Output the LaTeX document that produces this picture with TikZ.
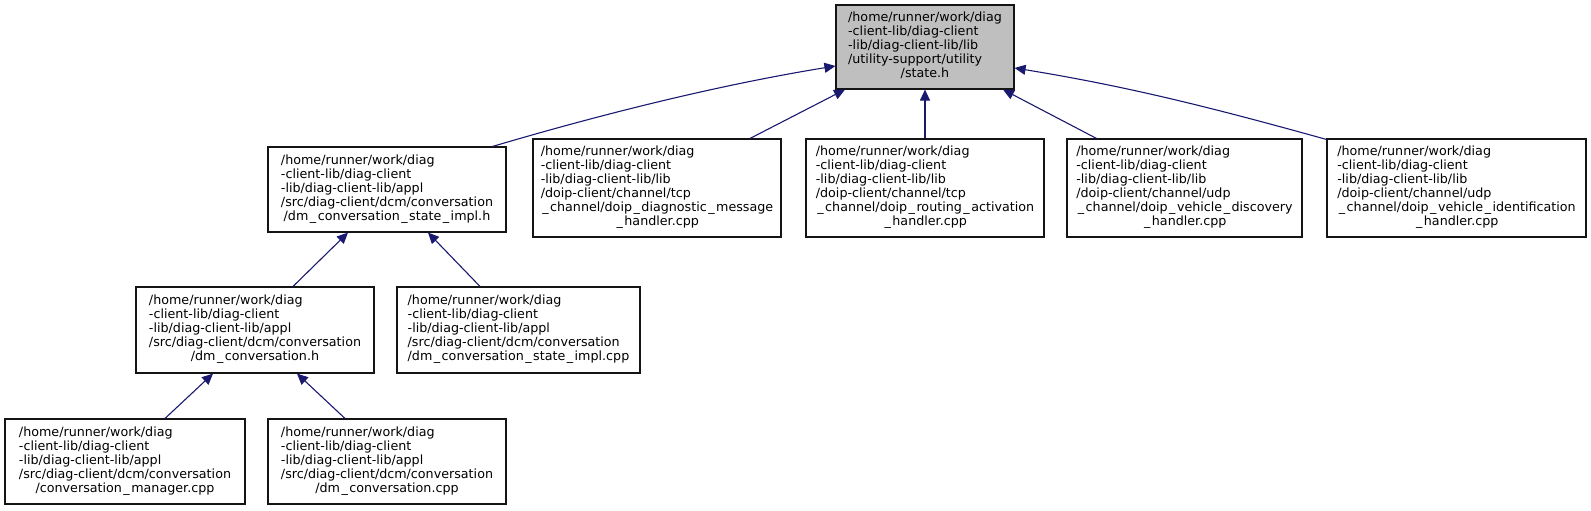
\documentclass[tikz,border=0pt]{standalone}
\usepackage{fontspec}
\setmainfont{DejaVu Sans}
\usepackage{tikz}
\usetikzlibrary{arrows.meta,calc}
\definecolor{edgeblue}{RGB}{25,25,112}
\definecolor{hdrgray}{RGB}{191,191,191}
\definecolor{frame}{RGB}{20,20,20}
% file name set as doxygen does: lines left, last line centred
\newcommand{\fpath}[2]{\raisebox{-2.5pt}{\begin{tabular}{@{}l@{}}#1\\\multicolumn{1}{@{}c@{}}{#2}\end{tabular}}}
\newcommand{\us}{\kern1.5pt\_\kern1.5pt}
\tikzset{
  file/.style={draw=frame, fill=white, line width=1.1pt, inner sep=0pt,
    font=\fontsize{12.7}{14}\selectfont, text=black},
  hdr/.style={file, fill=hdrgray},
  dep/.style={-{Triangle[length=11pt,width=10pt]}, line width=1.1pt, draw=edgeblue},
}
\begin{document}
\begin{tikzpicture}[x=1pt,y=-1pt]
  \useasboundingbox (0,0) rectangle (1591,511);
  % top row
  \node[hdr, minimum width=178, minimum height=84] (state) at (925,47)
    {\fpath{/home/runner/work/diag\\-client-lib/diag-client\\-lib/diag-client-lib/lib\\/utility-support/utility}{/state.h}};
  % second row
  \node[file, minimum width=238, minimum height=85] (implh) at (387,189.5)
    {\fpath{/home/runner/work/diag\\-client-lib/diag-client\\-lib/diag-client-lib/appl\\/src/diag-client/dcm/conversation}{/dm\us conversation\us state\us impl.h}};
  \node[file, minimum width=248, minimum height=98] (tcpdiag) at (657,188)
    {\fpath{/home/runner/work/diag\\-client-lib/diag-client\\-lib/diag-client-lib/lib\\/doip-client/channel/tcp\\\us channel/doip\us diagnostic\us message}{\us handler.cpp}};
  \node[file, minimum width=238, minimum height=98] (tcprout) at (925,188)
    {\fpath{/home/runner/work/diag\\-client-lib/diag-client\\-lib/diag-client-lib/lib\\/doip-client/channel/tcp\\\us channel/doip\us routing\us activation}{\us handler.cpp}};
  \node[file, minimum width=235, minimum height=98] (udpdisc) at (1184.5,188)
    {\fpath{/home/runner/work/diag\\-client-lib/diag-client\\-lib/diag-client-lib/lib\\/doip-client/channel/udp\\\us channel/doip\us vehicle\us discovery}{\us handler.cpp}};
  \node[file, minimum width=259, minimum height=98] (udpident) at (1456.5,188)
    {\fpath{/home/runner/work/diag\\-client-lib/diag-client\\-lib/diag-client-lib/lib\\/doip-client/channel/udp\\\us channel/doip\us vehicle\us identification}{\us handler.cpp}};
  % third row
  \node[file, minimum width=238, minimum height=86] (convh) at (255,330)
    {\fpath{/home/runner/work/diag\\-client-lib/diag-client\\-lib/diag-client-lib/appl\\/src/diag-client/dcm/conversation}{/dm\us conversation.h}};
  \node[file, minimum width=243, minimum height=86] (implcpp) at (518.5,330)
    {\fpath{/home/runner/work/diag\\-client-lib/diag-client\\-lib/diag-client-lib/appl\\/src/diag-client/dcm/conversation}{/dm\us conversation\us state\us impl.cpp}};
  % bottom row
  \node[file, minimum width=240, minimum height=85] (manager) at (125,461.5)
    {\fpath{/home/runner/work/diag\\-client-lib/diag-client\\-lib/diag-client-lib/appl\\/src/diag-client/dcm/conversation}{/conversation\us manager.cpp}};
  \node[file, minimum width=238, minimum height=85] (convcpp) at (387,461.5)
    {\fpath{/home/runner/work/diag\\-client-lib/diag-client\\-lib/diag-client-lib/appl\\/src/diag-client/dcm/conversation}{/dm\us conversation.cpp}};
  % include edges
  \draw[dep] ([xshift=-14pt]implh.north east) .. controls +(108,-32) and +(-117,19) .. ([yshift=-19pt]state.west);
  \draw[dep] ([xshift=93pt]tcpdiag.north) -- ([xshift=-80pt]state.south);
  \draw[dep] (tcprout.north) -- (state.south);
  \draw[dep] ([xshift=-88pt]udpdisc.north) -- ([xshift=78pt]state.south);
  \draw[dep] ([yshift=-1pt]udpident.north west) .. controls +(-108,-30) and +(117,19) .. ([yshift=-21pt]state.east);
  \draw[dep] ([xshift=38pt]convh.north) -- ([xshift=-39pt]implh.south);
  \draw[dep] ([xshift=-38.5pt]implcpp.north) -- ([xshift=41pt]implh.south);
  \draw[dep] ([xshift=40pt]manager.north) -- ([xshift=-42pt]convh.south);
  \draw[dep] ([xshift=-42pt]convcpp.north) -- ([xshift=42pt]convh.south);
\end{tikzpicture}
\end{document}
